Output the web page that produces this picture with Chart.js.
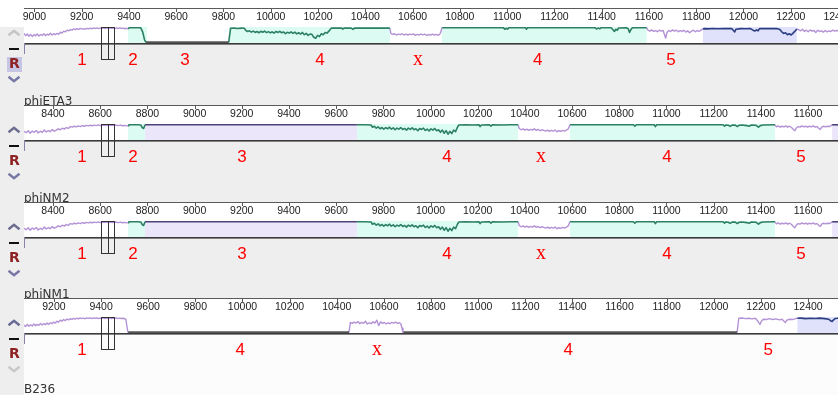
<!DOCTYPE html>
<html><head><meta charset="utf-8">
<script src="https://cdn.jsdelivr.net/npm/chart.js@4.4.1/dist/chart.umd.min.js"></script>
<style>
html,body{margin:0;padding:0;background:#fff;width:838px;height:395px;overflow:hidden;position:relative}
canvas{position:absolute;left:0}
</style></head><body>
<canvas id="c1" width="838" height="106" style="top:1px"></canvas>
<canvas id="c2" width="838" height="106" style="top:98px"></canvas>
<canvas id="c3" width="838" height="105" style="top:195px"></canvas>
<canvas id="c4" width="838" height="104" style="top:291px"></canvas>
<script>
// ---------------- DATA ----------------
const genomeNames = ["phiETA3", "phiNM2", "phiNM1", "B236"];

// visible coordinate ranges per genome
const p1Range = [8956, 12400];
const p2Range = [8277, 11727];
const p3Range = [8277, 11727];
const p4Range = [9073, 12527];

// ruler tick labels
const p1Ticks = [9000,9200,9400,9600,9800,10000,10200,10400,10600,10800,11000,11200,11400,11600,11800,12000,12200,12400];
const p2Ticks = [8400,8600,8800,9000,9200,9400,9600,9800,10000,10200,10400,10600,10800,11000,11200,11400,11600];
const p3Ticks = [8400,8600,8800,9000,9200,9400,9600,9800,10000,10200,10400,10600,10800,11000,11200,11400,11600];
const p4Ticks = [9200,9400,9600,9800,10000,10200,10400,10600,10800,11000,11200,11400,11600,11800,12000,12200,12400];

// ---- phiETA3 similarity profile (position, similarity %) ----
const p1Purple1 = [[8956,60],[8963,46],[8970,56],[8977,42],[8984,54],[8991,40],[8998,52],[9005,45],[9012,56],[9019,44],[9026,53],[9033,47],[9040,58],[9047,46],[9054,55],[9061,50],[9068,61],[9075,50],[9082,58],[9089,52],[9096,60],[9103,55],[9110,68],[9117,62],[9124,74],[9131,70],[9138,80],[9145,76],[9152,84],[9159,80],[9166,88],[9173,84],[9180,90],[9187,85],[9194,91],[9201,87],[9208,90],[9215,86],[9222,92],[9229,88],[9236,93],[9243,89],[9250,94],[9257,90],[9264,94],[9271,90],[9278,93],[9285,91],[9292,95],[9299,90],[9306,94],[9313,91],[9320,95],[9327,92],[9334,94],[9341,90],[9348,94],[9355,91],[9362,95],[9369,91],[9376,93],[9383,89],[9390,92],[9396,88]];
const p1Green2 = [[9396,88],[9402,96],[9420,95],[9435,96],[9450,95],[9458,70],[9466,20],[9472,4]];
const p1Gap3 = [[9472,4],[9822,4]];
const p1Green4a = [[9822,4],[9830,92],[9845,93],[9860,91],[9875,93],[9888,92],[9895,78],[9902,72],[9910,76],[9918,68],[9926,74],[9934,66],[9942,72],[9950,64],[9958,73],[9966,67],[9974,74],[9982,65],[9990,71],[9998,63],[10006,70],[10014,62],[10022,72],[10030,66],[10038,73],[10046,64],[10054,69],[10062,58],[10070,67],[10078,62],[10086,70],[10094,60],[10102,68],[10110,57],[10118,64],[10126,56],[10134,66],[10142,52],[10150,60],[10158,48],[10166,56],[10174,54],[10182,36],[10190,30],[10198,48],[10206,40],[10214,58],[10222,52],[10230,66],[10238,62],[10246,74],[10252,86],[10258,94],[10280,93],[10300,94],[10305,87],[10310,93],[10340,93],[10348,85],[10354,93],[10380,94],[10420,93],[10460,94],[10500,93],[10504,93]];
const p1PurpleX = [[10504,93],[10508,60],[10516,54],[10524,58],[10532,50],[10540,56],[10548,52],[10556,58],[10564,50],[10572,55],[10580,49],[10588,56],[10596,52],[10604,57],[10612,48],[10620,54],[10628,50],[10636,56],[10644,51],[10652,55],[10660,47],[10668,53],[10676,49],[10684,55],[10692,50],[10700,54],[10708,48],[10716,56],[10720,70],[10724,96]];
const p1Green4b = [[10724,96],[10850,96],[10984,96],[10990,86],[10996,92],[11002,87],[11008,96],[11078,96],[11082,86],[11087,96],[11200,96],[11300,96],[11372,96],[11378,88],[11385,93],[11392,89],[11398,96],[11440,95],[11447,84],[11454,72],[11460,86],[11466,80],[11472,94],[11505,95],[11512,90],[11518,66],[11524,84],[11530,95],[11591,95]];
const p1Purple5 = [[11591,95],[11596,80],[11604,74],[11612,82],[11620,72],[11628,78],[11636,70],[11644,80],[11652,74],[11660,78],[11666,52],[11671,30],[11676,64],[11684,78],[11692,72],[11700,82],[11708,74],[11716,80],[11724,70],[11732,78],[11740,72],[11748,80],[11756,68],[11764,76],[11772,64],[11780,74],[11788,80],[11796,70],[11804,78],[11812,72],[11820,80],[11828,88]];
const p1Navy5 = [[11828,88],[11836,90],[11850,88],[11870,91],[11890,89],[11920,91],[11950,90],[11958,78],[11963,69],[11968,86],[11990,90],[12010,89],[12030,90],[12040,80],[12048,75],[12056,82],[12062,76],[12068,90],[12100,91],[12140,90],[12154,84],[12162,70],[12170,60],[12178,64],[12186,52],[12194,58],[12202,50],[12210,62],[12218,74],[12226,88]];
const p1Purple6 = [[12226,88],[12234,82],[12242,76],[12250,86],[12258,72],[12266,80],[12274,70],[12282,82],[12290,74],[12298,78],[12306,66],[12314,80],[12322,72],[12330,76],[12338,68],[12346,78],[12354,70],[12362,76],[12370,72],[12378,80],[12386,74],[12394,78],[12400,76]];
const p1TealBlocks = [[9396,9476],[9822,10504],[10724,11591]];
const p1BlueBlocks = [[11828,12226]];
const p1LavBlocks = [];
const p1Labels = [[9201,"1"],[9417,"2"],[9637,"3"],[10208,"4"],[10623,"x"],[11130,"4"],[11693,"5"]];
const p1Cursor = [9282, 9337];

// ---- phiNM2 similarity profile ----
const p2Purple1 = [[8277,55],[8286,45],[8295,58],[8303,42],[8312,56],[8320,48],[8329,60],[8337,44],[8346,55],[8354,47],[8363,62],[8371,50],[8380,58],[8388,52],[8397,65],[8405,55],[8414,62],[8422,70],[8431,64],[8439,74],[8448,68],[8456,78],[8465,72],[8473,84],[8482,80],[8490,86],[8499,82],[8507,88],[8516,84],[8524,90],[8533,86],[8541,91],[8550,88],[8558,92],[8567,89],[8575,93],[8584,90],[8592,94],[8601,90],[8609,93],[8618,91],[8626,94],[8635,90],[8643,93],[8652,91],[8660,94],[8669,92],[8677,90],[8686,93],[8694,89],[8703,91],[8711,88],[8718,90]];
const p2Green2 = [[8718,90],[8722,95],[8740,95],[8760,95],[8772,94],[8778,78],[8784,72],[8790,95]];
const p2Dark3 = [[8790,95],[9688,95]];
const p2Green4a = [[9688,95],[9720,95],[9748,94],[9754,80],[9762,86],[9770,74],[9778,82],[9786,70],[9794,78],[9802,68],[9810,77],[9818,70],[9826,80],[9834,68],[9842,76],[9850,64],[9858,74],[9866,68],[9874,78],[9882,66],[9890,72],[9898,62],[9906,74],[9914,66],[9922,76],[9930,64],[9938,70],[9946,58],[9954,72],[9962,66],[9970,74],[9978,60],[9986,68],[9994,56],[10002,70],[10010,62],[10018,72],[10026,58],[10034,64],[10042,48],[10050,62],[10058,42],[10066,58],[10074,36],[10082,54],[10090,40],[10098,62],[10106,52],[10114,80],[10120,94],[10150,95],[10180,94],[10205,95],[10210,84],[10216,94],[10250,95],[10256,86],[10262,95],[10300,94],[10340,95],[10371,95]];
const p2PurpleX = [[10371,95],[10376,72],[10384,64],[10392,70],[10400,62],[10408,68],[10416,60],[10424,66],[10432,62],[10440,70],[10448,60],[10456,66],[10464,58],[10472,64],[10480,60],[10488,56],[10496,62],[10504,54],[10512,60],[10520,56],[10528,62],[10536,52],[10544,58],[10552,54],[10560,60],[10568,56],[10576,62],[10584,70],[10591,95]];
const p2Green4b = [[10591,95],[10700,95],[10860,95],[10866,86],[10872,95],[10948,95],[10953,84],[10959,95],[11100,95],[11240,95],[11246,86],[11252,94],[11262,92],[11270,85],[11278,93],[11290,94],[11300,84],[11308,92],[11320,94],[11340,90],[11350,86],[11360,94],[11380,92],[11390,80],[11398,90],[11410,94],[11460,95]];
const p2Purple5 = [[11460,95],[11466,82],[11474,88],[11482,80],[11490,86],[11498,82],[11506,88],[11514,80],[11522,86],[11530,78],[11538,66],[11544,58],[11550,74],[11558,84],[11566,80],[11574,88],[11582,82],[11590,86],[11598,80],[11606,86],[11614,82],[11622,88],[11630,80],[11638,84],[11646,72],[11652,66],[11658,80],[11666,86],[11674,82],[11682,86],[11690,84],[11696,88],[11702,95]];
const p2DarkEnd = [[11702,95],[11727,95]];
const p2TealBlocks = [[8718,8790],[9688,10371],[10591,11460]];
const p2BlueBlocks = [];
const p2LavBlocks = [[8790,9688],[11702,11727]];
const p2Labels = [[8523,"1"],[8739,"2"],[9201,"3"],[10070,"4"],[10468,"x"],[11002,"4"],[11570,"5"]];
const p2Cursor = [8603, 8658];

// ---- phiNM1 (same profile as phiNM2 in the picture) ----
const p3Labels = [[8523,"1"],[8739,"2"],[9201,"3"],[10070,"4"],[10468,"x"],[11002,"4"],[11570,"5"]];
const p3Cursor = [8603, 8658];

// ---- B236 similarity profile ----
const p4Purple1 = [[9073,50],[9080,40],[9087,54],[9094,42],[9101,52],[9108,44],[9115,57],[9122,45],[9129,54],[9136,48],[9143,60],[9150,50],[9157,58],[9164,52],[9171,62],[9178,54],[9185,64],[9192,58],[9199,68],[9206,62],[9213,74],[9220,68],[9227,80],[9234,74],[9241,84],[9248,78],[9255,87],[9262,82],[9269,89],[9276,85],[9283,91],[9290,87],[9297,93],[9304,88],[9311,94],[9318,90],[9325,93],[9332,89],[9339,95],[9346,91],[9353,94],[9360,90],[9367,94],[9374,91],[9381,95],[9388,90],[9395,93],[9402,91],[9409,95],[9416,90],[9423,93],[9430,91],[9437,94],[9444,90],[9451,93],[9458,91],[9465,94],[9472,90],[9479,93],[9486,91],[9493,92],[9500,89],[9505,86],[9509,50],[9514,4]];
const p4Gap1 = [[9514,4],[10452,4]];
const p4PurpleX = [[10452,4],[10458,66],[10466,60],[10474,68],[10482,62],[10490,72],[10498,58],[10506,66],[10514,60],[10522,74],[10530,56],[10538,64],[10546,58],[10554,70],[10562,62],[10570,80],[10578,46],[10586,70],[10594,60],[10602,66],[10610,56],[10618,64],[10626,58],[10634,66],[10642,62],[10650,68],[10658,60],[10666,64],[10672,58],[10677,30],[10681,4]];
const p4Gap2 = [[10681,4],[12099,4]];
const p4Purple5 = [[12099,4],[12106,92],[12120,94],[12134,90],[12148,92],[12162,88],[12176,92],[12184,80],[12190,66],[12196,54],[12202,74],[12210,86],[12222,84],[12236,90],[12250,84],[12264,88],[12278,82],[12290,86],[12298,74],[12304,66],[12310,80],[12322,86],[12334,84],[12346,90],[12354,92]];
const p4Navy5 = [[12354,92],[12370,93],[12390,90],[12410,92],[12430,91],[12450,93],[12470,90],[12488,86],[12496,76],[12502,72],[12508,82],[12516,91],[12527,92]];
const p4TealBlocks = [];
const p4BlueBlocks = [[12354,12527]];
const p4LavBlocks = [];
const p4Labels = [[9319,"1"],[9990,"4"],[10571,"x"],[11382,"4"],[12231,"5"]];
const p4Cursor = [9400, 9455];

// ---------------- STYLE ----------------
const STYLE = {
  purple: {c:'#b392d6', w:1.4},
  green:  {c:'#2d8064', w:1.6},
  navy:   {c:'#2d3f82', w:1.6},
  dpurple:{c:'#4d4279', w:1.6},
  gap:    {c:'#555555', w:2}
};
const FILL = {teal:'#dcfcf3', blue:'#dfe2fa', lav:'#ece6fa'};

const panels = [
  {id:'c1', name:genomeNames[0], range:p1Range, ticks:p1Ticks, first:true, last:false,
   segs:[[p1Purple1,'purple'],[p1Green2,'green'],[p1Gap3,'gap'],[p1Green4a,'green'],[p1PurpleX,'purple'],[p1Green4b,'green'],[p1Purple5,'purple'],[p1Navy5,'navy'],[p1Purple6,'purple']],
   teal:p1TealBlocks, blue:p1BlueBlocks, lav:p1LavBlocks, labels:p1Labels, cursor:p1Cursor, upC:'#c4c4c4', downC:'#7777a6'},
  {id:'c2', name:genomeNames[1], range:p2Range, ticks:p2Ticks, first:false, last:false,
   segs:[[p2Purple1,'purple'],[p2Green2,'green'],[p2Dark3,'dpurple'],[p2Green4a,'green'],[p2PurpleX,'purple'],[p2Green4b,'green'],[p2Purple5,'purple'],[p2DarkEnd,'dpurple']],
   teal:p2TealBlocks, blue:p2BlueBlocks, lav:p2LavBlocks, labels:p2Labels, cursor:p2Cursor, upC:'#6c6c90', downC:'#7777a6'},
  {id:'c3', name:genomeNames[2], range:p3Range, ticks:p3Ticks, first:false, last:false,
   segs:[[p2Purple1,'purple'],[p2Green2,'green'],[p2Dark3,'dpurple'],[p2Green4a,'green'],[p2PurpleX,'purple'],[p2Green4b,'green'],[p2Purple5,'purple'],[p2DarkEnd,'dpurple']],
   teal:p2TealBlocks, blue:p2BlueBlocks, lav:p2LavBlocks, labels:p3Labels, cursor:p3Cursor, upC:'#6c6c90', downC:'#7777a6'},
  {id:'c4', name:genomeNames[3], range:p4Range, ticks:p4Ticks, first:false, last:true,
   segs:[[p4Purple1,'purple'],[p4Gap1,'gap'],[p4PurpleX,'purple'],[p4Gap2,'gap'],[p4Purple5,'purple'],[p4Navy5,'navy']],
   teal:p4TealBlocks, blue:p4BlueBlocks, lav:p4LavBlocks, labels:p4Labels, cursor:p4Cursor, upC:'#6a6a96', downC:'#c8c8c8'}
];

function lineDS(arr, st){
  return {type:'line', data:arr.map(p=>({x:p[0], y:p[1]})), borderColor:st.c, borderWidth:st.w,
          pointRadius:0, fill:false, tension:0, order:0, borderJoinStyle:'round'};
}
function blockDS(b, color){
  return {type:'line', data:[{x:b[0],y:100},{x:b[1],y:100}], borderWidth:0, borderColor:'rgba(0,0,0,0)',
          backgroundColor:color, fill:'origin', pointRadius:0, order:1};
}
function chevron(ctx, cx, cy, up, color){
  ctx.beginPath(); ctx.strokeStyle=color; ctx.lineWidth=2.4; ctx.lineJoin='miter';
  const w=5.5, h=4.5;
  if(up){ ctx.moveTo(cx-w,cy+h/2); ctx.lineTo(cx,cy-h/2); ctx.lineTo(cx+w,cy+h/2); }
  else { ctx.moveTo(cx-w,cy-h/2); ctx.lineTo(cx,cy+h/2); ctx.lineTo(cx+w,cy-h/2); }
  ctx.stroke();
}

const mauvePlugin = {
  id:'mauve',
  beforeDraw(chart, args, opts){
    const P = opts.panel, ctx = chart.ctx, a = chart.chartArea, W = chart.width, H = chart.height;
    const B = chart.scales.x.top;
    ctx.save();
    ctx.fillStyle='#eeeeee'; ctx.fillRect(0,B,W,H-B);
    ctx.fillStyle='#ffffff'; ctx.fillRect(a.left,B,a.right-a.left,a.bottom-B);
    if(P.first){ ctx.fillRect(0,0,W,B); ctx.fillRect(0,0,a.left,a.top); }
    if(P.last){ ctx.fillStyle='#fcfcfc'; ctx.fillRect(a.left,a.bottom,a.right-a.left,H-a.bottom); }
    ctx.restore();
  },
  afterDraw(chart, args, opts){
    const P = opts.panel, ctx = chart.ctx, a = chart.chartArea, H = chart.height;
    const xs = chart.scales.x, B = xs.top;
    ctx.save();
    // ruler border and tick marks
    ctx.fillStyle='#5a5a5a';
    ctx.fillRect(a.left,B,a.right-a.left,1);
    xs.ticks.forEach(t=>{ const px=Math.round(xs.getPixelForValue(t.value)); ctx.fillRect(px,B,1,4); });
    // track baseline
    ctx.fillStyle='#3a3a3a'; ctx.fillRect(a.left,a.bottom,a.right-a.left,1.6);
    ctx.fillStyle='#8c80aa'; ctx.fillRect(a.left,a.bottom,1,11);
    // cursor box
    const x1=Math.round(xs.getPixelForValue(P.cursor[0]))+0.5, x2=Math.round(xs.getPixelForValue(P.cursor[1]))+0.5;
    ctx.strokeStyle='#333'; ctx.lineWidth=1;
    ctx.strokeRect(x1,a.top+0.5,x2-x1,32);
    const xm=Math.round((x1+x2)/2)+0.5;
    ctx.beginPath(); ctx.moveTo(xm,a.top+0.5); ctx.lineTo(xm,a.top+32.5); ctx.stroke();
    // red region labels
    ctx.fillStyle='#ff0000'; ctx.textAlign='center'; ctx.textBaseline='alphabetic';
    P.labels.forEach(([v,t])=>{
      ctx.font = t==='x' ? '20px "Liberation Serif"' : '17px "Liberation Sans"';
      ctx.fillText(t, xs.getPixelForValue(v), a.bottom+21.5);
    });
    // genome name
    ctx.fillStyle='#333'; ctx.textAlign='left'; ctx.font='12px "DejaVu Sans"';
    ctx.fillText(P.name, a.left, H-2);
    // controls
    chevron(ctx,14,a.top+6,true,P.upC);
    ctx.fillStyle='#111'; ctx.fillRect(9,a.top+21,10,2);
    if(P.first){ ctx.fillStyle='#c6c6e4'; ctx.fillRect(7,a.top+30,15,15); }
    ctx.fillStyle='#8e2222'; ctx.font='bold 14px "DejaVu Sans"'; ctx.textAlign='center'; ctx.textBaseline='middle';
    ctx.fillText('R',14.5,a.top+37.5);
    chevron(ctx,14,a.top+52,false,P.downC);
    ctx.restore();
  }
};

panels.forEach(P=>{
  const cv = document.getElementById(P.id);
  const H = cv.height;
  const datasets = [];
  P.teal.forEach(b=>datasets.push(blockDS(b,FILL.teal)));
  P.blue.forEach(b=>datasets.push(blockDS(b,FILL.blue)));
  P.lav.forEach(b=>datasets.push(blockDS(b,FILL.lav)));
  P.segs.forEach(([arr,key])=>datasets.push(lineDS(arr,STYLE[key])));
  new Chart(cv, {
    type:'line',
    data:{datasets},
    plugins:[mauvePlugin],
    options:{
      responsive:false, animation:false, devicePixelRatio:1, events:[],
      layout:{padding:{left:24,right:0,top:7,bottom:H-42}},
      plugins:{legend:{display:false}, tooltip:{enabled:false}, mauve:{panel:P}},
      scales:{
        x:{type:'linear', position:'top', min:P.range[0], max:P.range[1], bounds:'data',
           afterBuildTicks:s=>{ s.ticks = P.ticks.map(v=>({value:v})); },
           afterFit:s=>{ s.height=19; s.paddingLeft=0; s.paddingRight=0; },
           ticks:{autoSkip:false, maxRotation:0, minRotation:0, padding:4, color:'#222',
                  font:{family:'"Liberation Sans"', size:10.5}, callback:v=>String(v)},
           grid:{display:false, drawTicks:false}, border:{display:false}},
        y:{type:'linear', min:0, max:100, display:false}
      }
    }
  });
});
</script>
</body></html>
